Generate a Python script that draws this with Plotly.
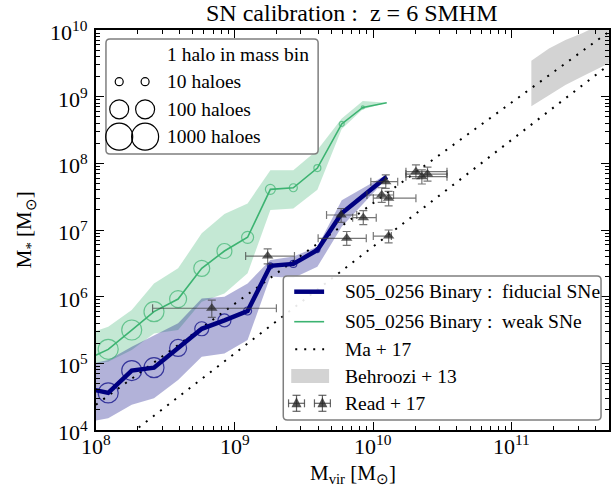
import plotly.graph_objects as go

# ---------------- data ----------------
fid_mvir = [8.3e7, 1.225e8, 1.81e8, 2.62e8, 3.91e8, 5.79e8, 8.44e8, 1.24e9, 1.81e9, 2.65e9, 3.95e9, 5.92e9, 1.25e10]
fid_mstar = [4.3e4, 3.6e4, 7.8e4, 8.6e4, 1.7e5, 3.3e5, 4.4e5, 6.1e5, 2.9e6, 3.1e6, 5.0e6, 1.78e7, 6.3e7]
fid_hi = [9.4e4, 1.12e5, 1.78e5, 2.66e5, 4.0e5, 9.4e5, 1.0e6, 1.58e6, 3.55e6, 4.0e6, 5.6e6, 2.8e7, 6.8e7]
fid_lo = [1.3e4, 1.5e4, 2.4e4, 3.0e4, 5.6e4, 1.26e5, 1.41e5, 2.24e5, 2.0e6, 1.9e6, 2.8e6, 1.12e7, 5.9e7]
fid_size = [20, 20, 20, 20, 17, 14, 13, 8, 6, 7, 5, 3, 0]

weak_mvir = [8.3e7, 1.225e8, 1.81e8, 2.62e8, 3.91e8, 5.79e8, 8.44e8, 1.24e9, 1.81e9, 2.65e9, 3.95e9, 5.92e9, 8.4e9, 1.25e10]
weak_mstar = [1.1e5, 1.62e5, 3.16e5, 5.96e5, 9.2e5, 2.66e6, 4.84e6, 7.77e6, 4.07e7, 4.3e7, 8.5e7, 3.9e8, 6.9e8, 8.1e8]
weak_hi = [2.66e5, 3.55e5, 6.3e5, 1.58e6, 2.66e6, 8.9e6, 1.74e7, 2.5e7, 7.9e7, 7.9e7, 1.58e8, 4.7e8, 8.6e8, 8.1e8]
weak_lo = [9.4e4, 1.06e5, 1.58e5, 2.8e5, 3.16e5, 8.4e5, 1.12e6, 2.24e6, 2.0e7, 2.1e7, 4.0e7, 3.27e8, 6.5e8, 8.1e8]
weak_size = [20, 20, 20, 20, 17, 16, 15, 12, 10, 8, 7, 5, 3, 0]

ma17_mvir = [1e8, 5.0e11]
ma17_upper = [2.4e4, 9.4e9]
ma17_lower = [3.5e3, 3.0e9]

behroozi_mvir = [1.38e11, 1.85e11, 2.43e11, 3.21e11, 5.0e11]
behroozi_hi = [3.47e9, 5.3e9, 7.1e9, 8.9e9, 1.41e10]
behroozi_lo = [7.2e8, 1.06e9, 1.5e9, 2.0e9, 3.16e9]

read_mvir = [6.84e8, 1.73e9, 5.86e9, 8.47e9, 6.43e9, 1.29e10, 1.23e10, 1.15e10, 1.29e10, 2.03e10, 2.24e10, 2.46e10]
read_mvir_lo = [2.56e8, 1.2e9, 4.6e9, 7.1e9, 4.0e9, 1.0e10, 9.6e9, 9.0e9, 1.0e10, 1.72e10, 1.72e10, 1.72e10]
read_mvir_hi = [2.0e9, 2.7e9, 7.6e9, 1.05e10, 8.9e9, 1.35e10, 1.5e10, 1.4e10, 2.03e10, 3.4e10, 3.4e10, 3.4e10]
read_mstar = [6.7e5, 4.07e6, 1.68e7, 1.53e7, 7.5e6, 8.1e6, 5.3e7, 3.35e7, 3.0e7, 7.5e7, 6.3e7, 6.9e7]
read_mstar_lo = [4.9e5, 3.1e6, 1.3e7, 1.2e7, 5.9e6, 6.4e6, 4.2e7, 2.6e7, 2.3e7, 5.9e7, 4.9e7, 5.4e7]
read_mstar_hi = [8.9e5, 5.2e6, 2.1e7, 1.95e7, 9.5e6, 1.0e7, 6.7e7, 4.3e7, 3.8e7, 9.5e7, 8.0e7, 8.8e7]

x_tick_exp = [8, 9, 10, 11]
y_tick_exp = [4, 5, 6, 7, 8, 9, 10]

legend_sizes = [0, 8, 19, 27]
legend_size_labels = ["1 halo in mass bin", "10 haloes", "100 haloes", "1000 haloes"]
legend2_labels = ["S05_0256 Binary :  fiducial SNe", "S05_0256 Binary :  weak SNe",
                  "Ma + 17", "Behroozi + 13", "Read + 17"]

NAVY = "#000080"
GREEN = "#3CB371"
FONT = "Liberation Serif"

fig = go.Figure()

# bands
fig.add_trace(go.Scatter(x=weak_mvir, y=weak_lo, mode="lines", line=dict(width=0), showlegend=False, hoverinfo="skip"))
fig.add_trace(go.Scatter(x=weak_mvir, y=weak_hi, mode="lines", line=dict(width=0), fill="tonexty",
                         fillcolor="rgba(60,179,113,0.3)", showlegend=False, hoverinfo="skip"))
fig.add_trace(go.Scatter(x=fid_mvir, y=fid_lo, mode="lines", line=dict(width=0), showlegend=False, hoverinfo="skip"))
fig.add_trace(go.Scatter(x=fid_mvir, y=fid_hi, mode="lines", line=dict(width=0), fill="tonexty",
                         fillcolor="rgba(0,0,128,0.3)", showlegend=False, hoverinfo="skip"))
fig.add_trace(go.Scatter(x=behroozi_mvir, y=behroozi_lo, mode="lines", line=dict(width=0), showlegend=False, hoverinfo="skip"))
fig.add_trace(go.Scatter(x=behroozi_mvir, y=behroozi_hi, mode="lines", line=dict(width=0), fill="tonexty",
                         fillcolor="#d3d3d3", showlegend=False, hoverinfo="skip"))

# Ma+17
for yy in (ma17_upper, ma17_lower):
    fig.add_trace(go.Scatter(x=ma17_mvir, y=yy, mode="lines",
                             line=dict(color="black", width=2, dash="2px,7px"), showlegend=False))

# lines with halo-count markers
fig.add_trace(go.Scatter(x=weak_mvir, y=weak_mstar, mode="lines+markers",
                         line=dict(color=GREEN, width=1.6),
                         marker=dict(symbol="circle-open", size=weak_size, color=GREEN, line=dict(width=1.2)),
                         showlegend=False))
fig.add_trace(go.Scatter(x=fid_mvir, y=fid_mstar, mode="lines+markers",
                         line=dict(color=NAVY, width=4.5),
                         marker=dict(symbol="circle-open", size=fid_size, color=NAVY, line=dict(width=1.2)),
                         showlegend=False))

# Read+17
fig.add_trace(go.Scatter(
    x=read_mvir, y=read_mstar, mode="markers",
    marker=dict(symbol="triangle-up", size=10, color="rgba(40,40,40,0.75)"),
    error_x=dict(type="data", symmetric=False,
                 array=[h - v for h, v in zip(read_mvir_hi, read_mvir)],
                 arrayminus=[v - l for v, l in zip(read_mvir, read_mvir_lo)],
                 color="rgba(60,60,60,0.7)", thickness=1.2, width=4),
    error_y=dict(type="data", symmetric=False,
                 array=[h - v for h, v in zip(read_mstar_hi, read_mstar)],
                 arrayminus=[v - l for v, l in zip(read_mstar, read_mstar_lo)],
                 color="rgba(60,60,60,0.7)", thickness=1.2, width=4),
    showlegend=False))

# ---------------- layout ----------------
L, R, T, B = 96, 611, 30, 430
W, H = 616, 490


def px(x):
    return (x - L) / (R - L)


def py(y):
    return (B - y) / (B - T)


def rounded_box(x0, y0, x1, y1, r=4):
    rx = r / (R - L)
    ry = r / (B - T)
    a, b, c, d = px(x0), py(y1), px(x1), py(y0)
    return (f"M {a+rx},{b} L {c-rx},{b} Q {c},{b} {c},{b+ry} L {c},{d-ry} Q {c},{d} {c-rx},{d} "
            f"L {a+rx},{d} Q {a},{d} {a},{d-ry} L {a},{b+ry} Q {a},{b} {a+rx},{b} Z")


shapes = []
annotations = []
TXT = dict(family=FONT, size=19.5, color="black")

# legend 1 (halo count)
shapes.append(dict(type="path", xref="paper", yref="paper", path=rounded_box(106, 39, 319, 154),
                   line=dict(color="#7f7f7f", width=1.5), fillcolor="rgba(255,255,255,0.9)", layer="above"))
rows1 = [54.3, 81.7, 109.3, 136.7]
for s, lab, yy in zip(legend_sizes, legend_size_labels, rows1):
    if s > 0:
        for cx in (119.3, 145.3):
            shapes.append(dict(type="circle", xref="paper", yref="paper", xsizemode="pixel", ysizemode="pixel",
                               xanchor=px(cx), yanchor=py(yy), x0=-s / 2, x1=s / 2, y0=-s / 2, y1=s / 2,
                               line=dict(color="black", width=1.2), layer="above"))
    annotations.append(dict(xref="paper", yref="paper", x=px(165), y=py(yy), text=lab, showarrow=False,
                            xanchor="left", yanchor="middle", font=TXT))

# legend 2
shapes.append(dict(type="path", xref="paper", yref="paper", path=rounded_box(284, 276, 603, 420),
                   line=dict(color="#7f7f7f", width=1.5), fillcolor="rgba(255,255,255,0.9)", layer="above"))
rows2 = [291.7, 321.7, 349.3, 376.0, 403.3]
shapes.append(dict(type="line", xref="paper", yref="paper", x0=px(295), x1=px(325), y0=py(rows2[0]), y1=py(rows2[0]),
                   line=dict(color=NAVY, width=4.5), layer="above"))
shapes.append(dict(type="line", xref="paper", yref="paper", x0=px(295), x1=px(325), y0=py(rows2[1]), y1=py(rows2[1]),
                   line=dict(color=GREEN, width=1.6), layer="above"))
shapes.append(dict(type="line", xref="paper", yref="paper", x0=px(296), x1=px(325), y0=py(rows2[2]), y1=py(rows2[2]),
                   line=dict(color="black", width=2, dash="2px,7px"), layer="above"))
shapes.append(dict(type="rect", xref="paper", yref="paper", x0=px(292), x1=px(330), y0=py(383), y1=py(369),
                   line=dict(width=0), fillcolor="#d3d3d3", layer="above"))
for cx in (297.3, 323.3):
    cy = rows2[4]
    ebc = dict(color="rgba(60,60,60,0.8)", width=1.2)
    shapes.append(dict(type="line", xref="paper", yref="paper", x0=px(cx - 8), x1=px(cx + 8), y0=py(cy), y1=py(cy),
                       line=ebc, layer="above"))
    shapes.append(dict(type="line", xref="paper", yref="paper", x0=px(cx), x1=px(cx), y0=py(cy - 8), y1=py(cy + 8),
                       line=ebc, layer="above"))
    for ex in (cx - 8, cx + 8):
        shapes.append(dict(type="line", xref="paper", yref="paper", x0=px(ex), x1=px(ex), y0=py(cy - 4), y1=py(cy + 4),
                           line=ebc, layer="above"))
    for ey in (cy - 8, cy + 8):
        shapes.append(dict(type="line", xref="paper", yref="paper", x0=px(cx - 4), x1=px(cx + 4), y0=py(ey), y1=py(ey),
                           line=ebc, layer="above"))
    shapes.append(dict(type="path", xref="paper", yref="paper",
                       path=f"M {px(cx-5)},{py(cy+4)} L {px(cx+5)},{py(cy+4)} L {px(cx)},{py(cy-6)} Z",
                       line=dict(width=0), fillcolor="rgba(40,40,40,0.8)", layer="above"))
for lab, yy in zip(legend2_labels, rows2):
    annotations.append(dict(xref="paper", yref="paper", x=px(344), y=py(yy), text=lab, showarrow=False,
                            xanchor="left", yanchor="middle", font=TXT))

# title
annotations.append(dict(xref="paper", yref="paper", x=px(353), y=py(13), text="SN calibration :  z = 6 SMHM",
                        showarrow=False, xanchor="center", yanchor="middle",
                        font=dict(family=FONT, size=24, color="black")))

# tick labels
TICKF = dict(family=FONT, size=22, color="black")
for e in x_tick_exp:
    annotations.append(dict(xref="x", yref="paper", x=e, y=py(429), text=f"10<sup>{e}</sup>", showarrow=False,
                            xanchor="center", yanchor="top", font=TICKF))
for e in y_tick_exp:
    annotations.append(dict(xref="paper", yref="y", x=px(90), y=e, text=f"10<sup>{e}</sup>", showarrow=False,
                            xanchor="right", yanchor="middle", yshift=-1, font=TICKF))

# axis titles
annotations.append(dict(xref="paper", yref="paper", x=px(354), y=py(474), text="M<sub>vir</sub> [M<sub>⊙</sub>]",
                        showarrow=False, xanchor="center", yanchor="middle",
                        font=dict(family=FONT, size=21, color="black")))
annotations.append(dict(xref="paper", yref="paper", x=px(25), y=py(230), text="M<sub>*</sub> [M<sub>⊙</sub>]",
                        showarrow=False, xanchor="center", yanchor="middle", textangle=-90,
                        font=dict(family=FONT, size=21, color="black")))

axis_common = dict(type="log", dtick=1, showticklabels=False,
                   showline=True, linecolor="black", linewidth=1.5, mirror="allticks",
                   ticks="inside", ticklen=8, tickwidth=1, tickcolor="black",
                   minor=dict(ticks="inside", ticklen=4, tickwidth=1, tickcolor="black", dtick="D1", showgrid=False),
                   showgrid=False, zeroline=False)

fig.update_layout(
    width=W, height=H,
    margin=dict(l=L, r=W - R, t=T, b=H - B),
    paper_bgcolor="white", plot_bgcolor="white",
    showlegend=False,
    shapes=shapes, annotations=annotations,
    xaxis=dict(range=[8, 11.7], **axis_common),
    yaxis=dict(range=[4, 10], **axis_common),
)

fig.write_html("out.html", config={"displayModeBar": False},
               post_script="document.body.style.margin='0';document.body.style.padding='0';")
